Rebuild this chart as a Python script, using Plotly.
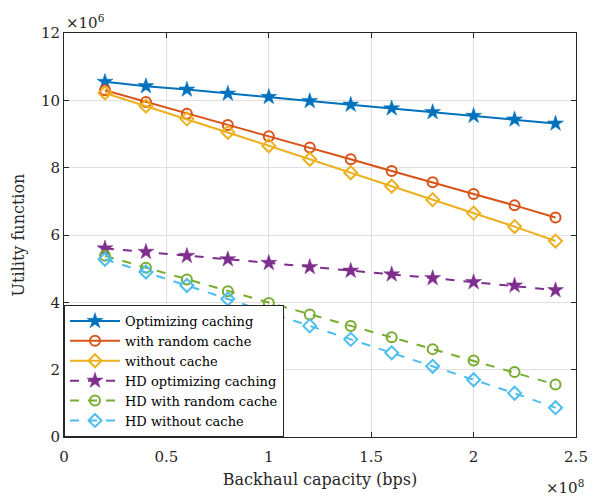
import plotly.graph_objects as go

x_vals = [0.2e8, 0.4e8, 0.6e8, 0.8e8, 1.0e8, 1.2e8, 1.4e8, 1.6e8, 1.8e8, 2.0e8, 2.2e8, 2.4e8]
opt = [10.55, 10.42, 10.32, 10.2, 10.1, 9.98, 9.87, 9.76, 9.65, 9.54, 9.43, 9.31]
rand_c = [10.3, 9.95, 9.6, 9.27, 8.93, 8.6, 8.25, 7.9, 7.57, 7.22, 6.88, 6.52]
no_c = [10.22, 9.83, 9.45, 9.05, 8.65, 8.25, 7.85, 7.45, 7.05, 6.65, 6.25, 5.82]
hd_opt = [5.6, 5.5, 5.38, 5.28, 5.17, 5.05, 4.94, 4.83, 4.72, 4.6, 4.5, 4.36]
hd_rand = [5.38, 5.03, 4.68, 4.33, 3.98, 3.64, 3.3, 2.96, 2.61, 2.27, 1.93, 1.56]
hd_no = [5.28, 4.9, 4.5, 4.1, 3.7, 3.3, 2.9, 2.5, 2.1, 1.7, 1.3, 0.87]

names = ["Optimizing caching", "with random cache", "without cache",
         "HD optimizing caching", "HD with random cache", "HD without cache"]
colors = ["#0072BD", "#D95319", "#EDB120", "#7E2F8E", "#77AC30", "#4DBEEE"]
symbols = ["star", "circle-open", "diamond-open", "star", "circle-open", "diamond-open"]
dashes = ["solid", "solid", "solid", "dash", "dash", "dash"]
series = [opt, rand_c, no_c, hd_opt, hd_rand, hd_no]

xtick_vals = [0, 0.5e8, 1.0e8, 1.5e8, 2.0e8, 2.5e8]
xtick_text = ["0", "0.5", "1", "1.5", "2", "2.5"]
ytick_vals = [0, 2, 4, 6, 8, 10, 12]
ytick_text = ["0", "2", "4", "6", "8", "10", "12"]

FONT = "DejaVu Serif"

fig = go.Figure()
for name, c, s, d, y in zip(names, colors, symbols, dashes, series):
    star = s == "star"
    fig.add_trace(go.Scatter(
        x=x_vals, y=y, name=name, mode="lines+markers",
        line=dict(color=c, width=2, dash=d),
        marker=dict(symbol=s, size=12 if star else 10, color=c,
                    line=dict(color=c, width=2 if not star else 0.5)),
    ))

fig.update_layout(
    width=600, height=497,
    margin=dict(l=64, r=17, t=33, b=59),
    paper_bgcolor="white", plot_bgcolor="white",
    font=dict(family=FONT, size=15, color="#262626"),
    showlegend=True,
    legend=dict(x=0, y=0, xanchor="left", yanchor="bottom",
                bgcolor="white", bordercolor="#262626", borderwidth=1,
                font=dict(family=FONT, size=13, color="#000000"),
                tracegroupgap=0, itemwidth=50),
)
fig.update_xaxes(
    range=[0, 2.5e8], tickvals=xtick_vals, ticktext=xtick_text,
    showgrid=True, gridcolor="#e0e0e0", gridwidth=1,
    showline=True, linecolor="#262626", linewidth=1, mirror="ticks",
    ticks="inside", ticklen=5, tickcolor="#262626", zeroline=False,
    tickfont=dict(family=FONT, size=15), ticklabelstandoff=6,
    title=dict(text="Backhaul capacity (bps)", font=dict(family=FONT, size=16), standoff=8),
)
fig.update_yaxes(
    range=[0, 12], tickvals=ytick_vals, ticktext=ytick_text,
    showgrid=True, gridcolor="#e0e0e0", gridwidth=1,
    showline=True, linecolor="#262626", linewidth=1, mirror="ticks",
    ticks="inside", ticklen=5, tickcolor="#262626", zeroline=False,
    tickfont=dict(family=FONT, size=15),
    title=dict(text="Utility function", font=dict(family=FONT, size=16), standoff=12),
)
fig.add_annotation(text="×10<sup>6</sup>", xref="paper", yref="paper", x=0, y=1,
                   xanchor="left", yanchor="bottom", showarrow=False,
                   font=dict(family=FONT, size=15, color="#262626"), yshift=-1)
fig.add_annotation(text="×10<sup>8</sup>", xref="paper", yref="paper", x=1, y=0,
                   xanchor="right", yanchor="top", showarrow=False,
                   font=dict(family=FONT, size=15, color="#262626"), yshift=-38, xshift=10)

fig.write_html("out.html")
